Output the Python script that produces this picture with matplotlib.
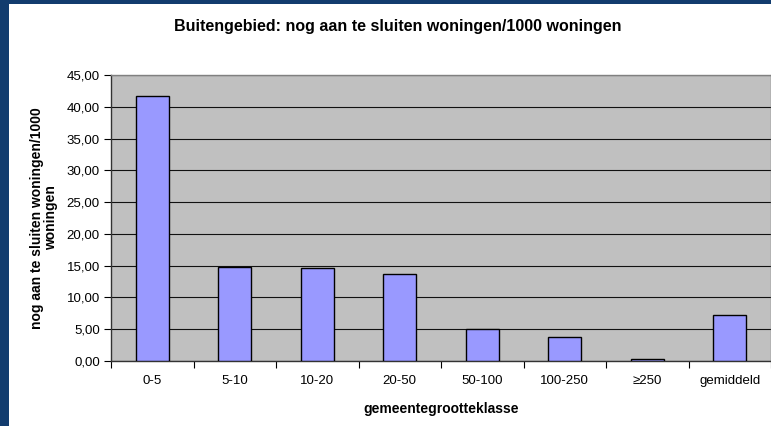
import matplotlib.pyplot as plt
import matplotlib.ticker as mticker
from matplotlib.patches import Rectangle
import numpy as np

plt.rcParams['font.family'] = ['Liberation Sans', 'DejaVu Sans']

# data
klassen = ['0-5', '5-10', '10-20', '20-50', '50-100', '100-250', '≥250', 'gemiddeld']
waarden = [41.74, 14.85, 14.7, 13.74, 5.05, 3.7, 0.35, 7.3]
y_ticks = [0, 5, 10, 15, 20, 25, 30, 35, 40, 45]

W, H = 771, 426
fig = plt.figure(figsize=(W / 100, H / 100), dpi=100)
fig.patch.set_facecolor('white')

# dark blue frame on the left and top
fig.patches.append(Rectangle((0, 0), 9 / W, 1, transform=fig.transFigure,
                             facecolor='#123c6e', edgecolor='none', zorder=0))
fig.patches.append(Rectangle((0, 1 - 4 / H), 1, 4 / H, transform=fig.transFigure,
                             facecolor='#123c6e', edgecolor='none', zorder=0))

ax = fig.add_axes([111 / W, 1 - 361 / H, 1 - 111 / W, (361 - 75) / H])
ax.set_facecolor('#c0c0c0')

x = np.arange(len(klassen))
ax.bar(x, waarden, width=0.4, color='#9999ff', edgecolor='black', linewidth=1.0, zorder=3)

ax.set_xlim(-0.5, len(klassen) - 0.5)
ax.set_ylim(0, 45)
ax.set_yticks(y_ticks)
ax.yaxis.set_major_formatter(mticker.FuncFormatter(lambda v, p: f'{v:.2f}'.replace('.', ',')))
ax.grid(axis='y', color='#111111', linewidth=0.8, zorder=1)
ax.set_axisbelow(True)

ax.set_xticks(x)
ax.set_xticklabels(klassen)
ax.set_xticks(np.arange(-0.5, len(klassen)), minor=True)
ax.tick_params(axis='x', which='major', length=0, pad=10, labelsize=9.5)
ax.tick_params(axis='x', which='minor', length=5, width=0.8, color='black', direction='out')
ax.tick_params(axis='y', length=5, width=0.8, labelsize=9.5, pad=3)

for side in ['top', 'right']:
    ax.spines[side].set_color('#808080')
    ax.spines[side].set_linewidth(1.0)
for side in ['left', 'bottom']:
    ax.spines[side].set_color('#333333')
    ax.spines[side].set_linewidth(1.0)

ax.set_xlabel('gemeentegrootteklasse', fontsize=10, fontweight='bold', labelpad=11)
ax.set_ylabel('nog aan te sluiten woningen/1000\nwoningen', fontsize=10,
              fontweight='bold', labelpad=6, linespacing=1.05)

fig.text(398 / W, 1 - 27 / H, 'Buitengebied: nog aan te sluiten woningen/1000 woningen',
         ha='center', va='center', fontsize=11.5, fontweight='bold')

fig.savefig('out.png', dpi=100)
